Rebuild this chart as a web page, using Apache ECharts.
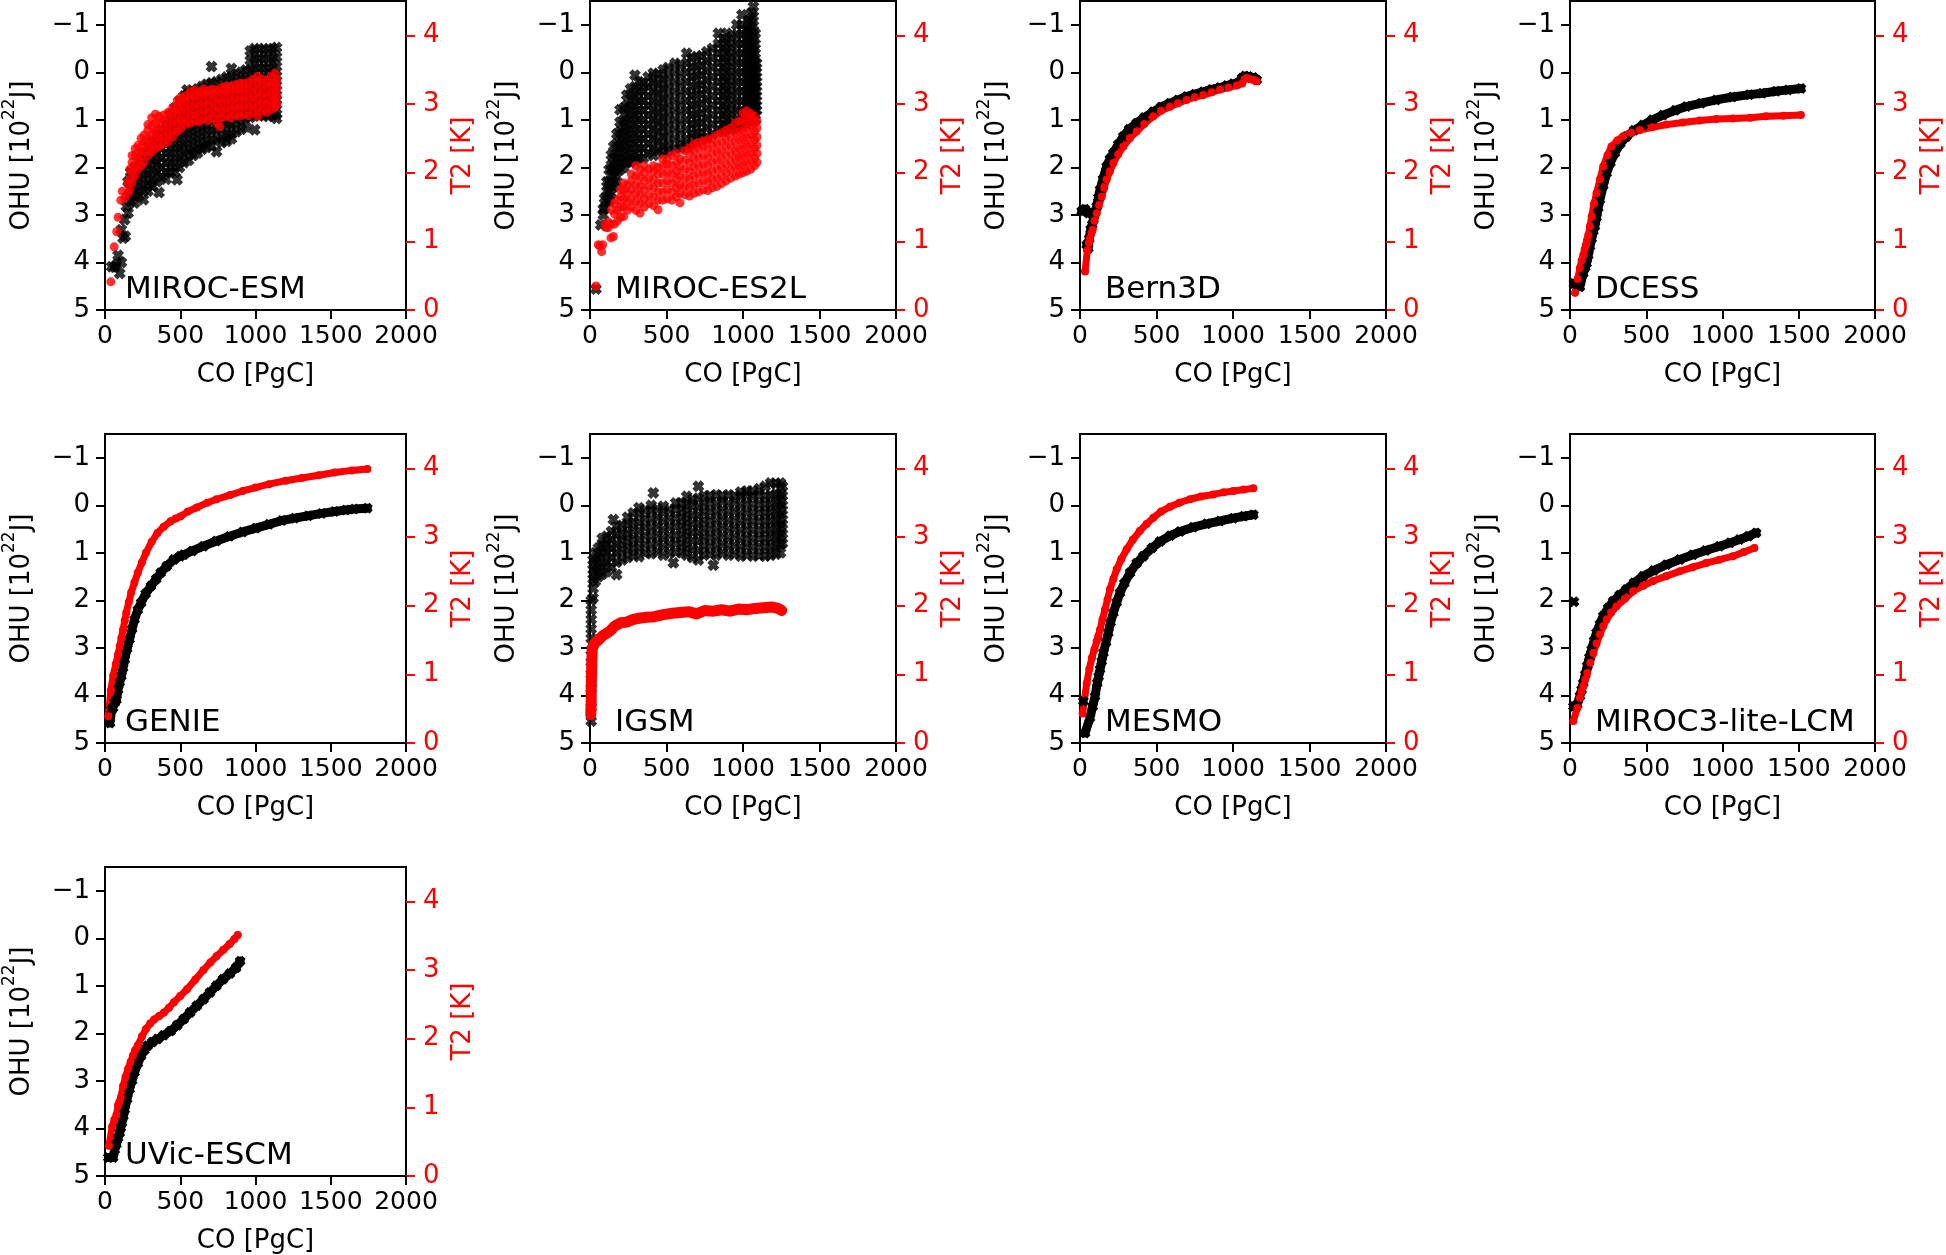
<!DOCTYPE html>
<html><head><meta charset="utf-8">
<script src="https://cdn.jsdelivr.net/npm/echarts@6/dist/echarts.min.js"></script>
<style>html,body{margin:0;padding:0;background:#fff}#c{width:1946px;height:1255px}</style>
</head><body><div id="c"></div>
<script>
// ---------- tick labels ----------
const xTicks = [0, 500, 1000, 1500, 2000];
const ohuTicks = [-1, 0, 1, 2, 3, 4, 5];
const t2Ticks = [0, 1, 2, 3, 4];
const models = ['MIROC-ESM', 'MIROC-ES2L', 'Bern3D', 'DCESS', 'GENIE', 'IGSM', 'MESMO', 'MIROC3-lite-LCM', 'UVic-ESCM'];

// ---------- scatter clouds: [CO, value, value, ...] columns ----------
const ohu_MIROC_ESM = [
 [44,4.09],[65,4.1],[76,4.05],[87,3.85],[98,4.23],[109,4.0,3.31],[120,3.49],[131,3.1],[135,3.45],[142,2.82],[153,2.96,2.6,2.3],
 [170,2.1,2.35,2.55,2.72],[196,2.0,2.2,2.4,2.6,2.75],[225,1.85,2.05,2.25,2.45,2.6],[255,1.7,1.9,2.1,2.3,2.5,2.68],
 [285,1.55,1.75,1.95,2.15,2.35,2.5],[315,1.45,1.65,1.85,2.05,2.25,2.4],[345,1.3,1.5,1.7,1.9,2.1,2.3],[359,2.53],
 [375,1.2,1.4,1.6,1.8,2.0,2.2],[405,1.1,1.3,1.5,1.7,1.9,2.1,2.25],[435,0.9,1.1,1.3,1.5,1.7,1.9,2.1],
 [465,0.75,0.95,1.15,1.35,1.55,1.75,1.95,2.1],[479,2.26],[495,0.6,0.8,1.0,1.2,1.4,1.6,1.8,2.0],
 [525,0.5,0.7,0.9,1.1,1.3,1.5,1.7,1.9],[545,0.37],[555,0.45,0.65,0.85,1.05,1.25,1.45,1.65,1.85],
 [585,0.4,0.6,0.8,1.0,1.2,1.4,1.6,1.75],[615,0.35,0.55,0.75,0.95,1.15,1.35,1.55,1.7],
 [645,0.3,0.5,0.7,0.9,1.1,1.3,1.5,1.62],[675,0.25,0.45,0.65,0.85,1.05,1.25,1.45,1.58],
 [708,-0.12,0.22,0.42,0.62,0.82,1.02,1.22,1.42,1.55],[741,0.2,0.4,0.6,0.8,1.0,1.2,1.4,1.67],
 [775,0.15,0.35,0.55,0.75,0.95,1.15,1.35,1.48],[808,0.1,0.3,0.5,0.7,0.9,1.1,1.3,1.45],
 [840,-0.08,0.1,0.3,0.5,0.7,0.9,1.1,1.3,1.4],[872,0.05,0.25,0.45,0.65,0.85,1.05,1.25],
 [905,0.0,0.2,0.4,0.6,0.8,1.0,1.2],[935,-0.05,0.15,0.35,0.55,0.75,0.95,1.15],
 [965,-0.45,-0.25,-0.05,0.15,0.35,0.55,0.75,0.95],[995,-0.5,-0.3,-0.1,0.1,0.3,0.5,0.7,0.9,1.21],
 [1025,-0.48,-0.28,-0.08,0.12,0.32,0.52,0.72,0.92],[1055,-0.5,-0.3,-0.1,0.1,0.3,0.5,0.7,0.9],
 [1085,-0.47,-0.27,-0.07,0.13,0.33,0.53,0.73,0.93],[1115,-0.5,-0.3,-0.1,0.1,0.3,0.5,0.7,0.9],
 [1140,-0.52,-0.32,-0.12,0.08,0.28,0.48,0.68,0.88,0.97]
];
const t2_MIROC_ESM = [
 [39,0.41],[61,0.92],[78,1.14],[87,1.35],[105,1.6],[115,1.73],[131,1.63],[150,1.7,1.85],[165,1.75,1.9,2.05],
 [180,1.85,2.0,2.15,2.25],[200,1.95,2.1,2.25,2.35],[220,2.05,2.18,2.3,2.4],[240,2.1,2.25,2.38,2.5],
 [260,2.15,2.3,2.45,2.55],[285,2.25,2.38,2.5,2.62,2.7],[310,2.3,2.42,2.55,2.68,2.8],[335,2.35,2.48,2.6,2.72,2.85],
 [360,2.38,2.5,2.62,2.74,2.82],[390,2.42,2.52,2.64,2.76,2.84],[420,2.45,2.56,2.68,2.8,2.88],
 [450,2.52,2.62,2.74,2.86,2.95],[480,2.6,2.72,2.84,2.96,3.05],[505,2.65,2.77,2.9,3.02,3.1],
 [535,2.7,2.8,2.92,3.04,3.12],[565,2.72,2.84,2.96,3.08,3.18],[595,2.75,2.86,2.98,3.1,3.2],
 [625,2.74,2.86,2.98,3.1,3.18],[655,2.78,2.9,3.02,3.14,3.22],[685,2.76,2.88,3.0,3.12,3.2],
 [715,2.8,2.92,3.04,3.16,3.22],[745,2.72,2.85,2.97,3.09,3.2],[763,2.67],[775,2.8,2.92,3.04,3.16,3.24],
 [805,2.82,2.94,3.06,3.18,3.26],[835,2.8,2.92,3.04,3.16,3.26],[865,2.84,2.96,3.08,3.2,3.28],
 [895,2.82,2.95,3.07,3.19,3.3],[925,2.85,2.97,3.09,3.21,3.3],[955,2.83,2.96,3.08,3.2,3.32],
 [985,2.88,3.0,3.12,3.24,3.36],[1015,2.82,2.95,3.07,3.19,3.31,3.4],[1045,2.9,3.02,3.14,3.26,3.36],
 [1075,2.88,3.0,3.12,3.24,3.35],[1105,2.92,3.04,3.16,3.28,3.4],[1130,2.95,3.07,3.19,3.31,3.45],[1142,3.0,3.12,3.24,3.36]
];
const ohu_MIROC_ES2L = [
 [39,4.56],[70,3.21],[87,3.0,2.88],[95,2.65,2.85],[110,2.3,2.5,2.7],[125,2.05,2.3,2.5,2.7],
 [140,1.74,1.95,2.15,2.35,2.55],[155,1.56,1.8,2.0,2.2,2.4],[175,1.3,1.5,1.7,1.9,2.1,2.3],
 [196,0.79,1.05,1.25,1.45,1.65,1.85,2.05],[220,0.75,1.0,1.2,1.4,1.6,1.8,2.0],
 [240,0.48,0.7,0.9,1.1,1.3,1.5,1.7,1.9],[265,0.35,0.55,0.75,0.95,1.15,1.35,1.55,1.75,1.9],
 [294,0.06,0.3,0.5,0.7,0.9,1.1,1.3,1.5,1.7,1.85],[320,0.2,0.4,0.6,0.8,1.0,1.2,1.4,1.6,1.8],
 [349,0.23,0.4,0.6,0.8,1.0,1.2,1.4,1.6,1.8],[380,0.1,0.3,0.5,0.7,0.9,1.1,1.3,1.5,1.7],
 [414,0.02,0.2,0.4,0.6,0.8,1.0,1.2,1.4,1.6,1.75],[445,0.05,0.25,0.45,0.65,0.85,1.05,1.25,1.45,1.65],
 [479,-0.05,0.15,0.35,0.55,0.75,0.95,1.15,1.35,1.55,1.7],[510,-0.1,0.1,0.3,0.5,0.7,0.9,1.1,1.3,1.5,1.65],
 [556,-0.19,0.0,0.2,0.4,0.6,0.8,1.0,1.2,1.4,1.6],[590,-0.15,0.05,0.25,0.45,0.65,0.85,1.05,1.25,1.45,1.6],
 [632,-0.4,-0.2,0.0,0.2,0.4,0.6,0.8,1.0,1.2,1.4,1.55],[665,-0.3,-0.1,0.1,0.3,0.5,0.7,0.9,1.1,1.3,1.5],
 [697,-0.33,-0.13,0.07,0.27,0.47,0.67,0.87,1.07,1.27,1.45],[730,-0.35,-0.15,0.05,0.25,0.45,0.65,0.85,1.05,1.25,1.42],
 [763,-0.43,-0.23,-0.03,0.17,0.37,0.57,0.77,0.97,1.17,1.37],[800,-0.5,-0.3,-0.1,0.1,0.3,0.5,0.7,0.9,1.1,1.3],
 [839,-0.82,-0.6,-0.4,-0.2,0.0,0.2,0.4,0.6,0.8,1.0,1.2],[870,-0.7,-0.5,-0.3,-0.1,0.1,0.3,0.5,0.7,0.9,1.1,1.25],
 [894,-0.82,-0.62,-0.42,-0.22,-0.02,0.18,0.38,0.58,0.78,0.98,1.15],[925,-0.75,-0.55,-0.35,-0.15,0.05,0.25,0.45,0.65,0.85,1.05,1.2],
 [959,-1.0,-0.8,-0.6,-0.4,-0.2,0.0,0.2,0.4,0.6,0.8,1.0,1.15],[993,-1.21,-1.0,-0.8,-0.6,-0.4,-0.2,0.0,0.2,0.4,0.6,0.8,1.0,1.1],
 [1020,-0.9,-0.7,-0.5,-0.3,-0.1,0.1,0.3,0.5,0.7,0.9,1.05],[1037,-1.1,-0.9,-0.7,-0.5,-0.3,-0.1,0.1,0.3,0.5,0.7,0.9],
 [1055,-1.25,-1.05,-0.85,-0.65,-0.45,-0.25,-0.05,0.15,0.35,0.55,0.75,0.95],
 [1068,-1.38,-1.18,-0.98,-0.78,-0.58,-0.38,-0.18,0.02,0.22,0.42,0.62,0.82,1.0],
 [1080,-0.82,-0.6,-0.4,-0.2,0.0,0.2,0.4,0.6,0.8,1.0],[1089,-0.19,0.0,0.2,0.4,0.6,0.8]
];
const t2_MIROC_ES2L = [
 [39,0.35],[54,0.95],[65,0.93],[76,0.85],[83,0.95],[100,1.25],[105,1.2],[120,1.2,1.28],[137,1.25,1.05],[153,1.07],[142,1.46],
 [160,1.25,1.4,1.55],[180,1.3,1.45,1.6],[200,1.35,1.5,1.65,1.75],[220,1.36,1.5,1.62,1.75,1.85],[245,1.45,1.57,1.7,1.82],
 [270,1.5,1.62,1.75,1.88,1.98],[300,1.45,1.58,1.7,1.82,1.95,2.1],[327,1.41,1.55,1.68,1.8,1.93,2.05],
 [355,1.5,1.62,1.75,1.88,2.0,2.1],[385,1.55,1.67,1.8,1.92,2.05],[415,1.52,1.65,1.78,1.9,2.02,2.1],
 [445,1.46,1.6,1.72,1.85,1.98,2.08],[475,1.6,1.72,1.85,1.98,2.1,2.2],[505,1.62,1.75,1.88,2.0,2.12,2.2],
 [535,1.6,1.72,1.85,1.98,2.1,2.25],[565,1.65,1.78,1.9,2.02,2.15,2.28],[588,1.56,1.7,1.82,1.95,2.08,2.2],
 [620,1.68,1.8,1.92,2.05,2.18,2.32],[650,1.66,1.78,1.9,2.02,2.15,2.28,2.36],[680,1.7,1.82,1.95,2.08,2.2,2.32,2.42],
 [710,1.72,1.85,1.98,2.1,2.22,2.35,2.44],[740,1.75,1.88,2.0,2.12,2.25,2.38,2.46],[770,1.74,1.86,1.98,2.1,2.22,2.35,2.48],
 [800,1.78,1.9,2.02,2.15,2.28,2.4,2.5],[830,1.8,1.92,2.05,2.18,2.3,2.42,2.55],[860,1.84,1.96,2.08,2.2,2.32,2.45,2.58],
 [890,1.88,2.0,2.12,2.25,2.38,2.5,2.62],[920,1.92,2.04,2.16,2.28,2.4,2.52,2.65],[950,1.95,2.08,2.2,2.32,2.45,2.58,2.72],
 [975,1.98,2.1,2.22,2.35,2.48,2.6,2.75],[1000,2.0,2.12,2.25,2.38,2.5,2.62,2.75,2.87],
 [1024,2.02,2.15,2.28,2.4,2.52,2.65,2.78,2.9],[1050,2.05,2.18,2.3,2.42,2.55,2.68,2.8,2.86],
 [1075,2.1,2.22,2.35,2.48,2.6,2.72,2.82],[1092,2.15,2.28,2.4,2.52,2.65,2.75]
];
const ohu_IGSM = [
 [8,4.54,4.25,3.85,3.55,3.3,3.05,2.8,2.6,2.4,2.2,2.0],[20,1.95,1.75,1.55,1.35,1.15],[35,1.6,1.4,1.2,1.0],
 [55,1.5,1.3,1.1,0.9],[80,1.45,1.25,1.05,0.85,0.7],[109,1.4,1.2,1.0,0.82,0.65],[140,1.3,1.1,0.9,0.72,0.55],[153,0.3],
 [174,1.46,1.2,1.0,0.82,0.62,0.45],[210,1.15,0.95,0.77,0.6,0.42],[245,1.1,0.92,0.75,0.58,0.4,0.25],
 [283,1.05,0.88,0.7,0.52,0.35,0.16],[320,1.08,0.9,0.72,0.54,0.36,0.18,0.05],[360,1.0,0.82,0.64,0.46,0.28,0.1],
 [400,1.02,0.84,0.66,0.48,0.3,0.12,0.0],[414,-0.26],[440,0.98,0.8,0.62,0.44,0.26,0.08],
 [479,1.05,0.87,0.69,0.51,0.33,0.15,0.02],[520,1.0,0.82,0.64,0.46,0.28,0.1],[545,1.21],
 [560,0.98,0.8,0.62,0.44,0.26,0.08,-0.05],[600,1.0,0.82,0.64,0.46,0.28,0.1,-0.05],
 [632,1.05,0.87,0.69,0.51,0.33,0.15,-0.03,-0.19],[670,1.1,0.92,0.74,0.56,0.38,0.2,0.02,-0.12],
 [708,1.15,0.95,0.75,0.57,0.39,0.21,0.03,-0.15,-0.4],[745,1.05,0.87,0.69,0.51,0.33,0.15,-0.03,-0.2],
 [785,1.02,0.84,0.66,0.48,0.3,0.12,-0.06,-0.2],[806,1.26],[825,1.05,0.87,0.69,0.51,0.33,0.15,-0.03,-0.22],
 [865,1.0,0.82,0.64,0.46,0.28,0.1,-0.08,-0.2],[905,1.05,0.87,0.69,0.51,0.33,0.15,-0.03,-0.22],
 [945,1.02,0.84,0.66,0.48,0.3,0.12,-0.06,-0.2],[985,1.07,0.89,0.71,0.53,0.35,0.17,-0.01,-0.19,-0.28],
 [1024,1.04,0.86,0.68,0.5,0.32,0.14,-0.04,-0.22,-0.3],[1065,1.07,0.89,0.71,0.53,0.35,0.17,-0.01,-0.19,-0.3],
 [1105,1.05,0.87,0.69,0.51,0.33,0.15,-0.03,-0.21,-0.35],[1145,1.07,0.89,0.71,0.53,0.35,0.17,-0.01,-0.19,-0.4],
 [1180,1.05,0.87,0.69,0.51,0.33,0.15,-0.03,-0.21,-0.47],[1215,1.03,0.85,0.67,0.49,0.31,0.13,-0.05,-0.23,-0.45],
 [1245,1.0,0.82,0.64,0.46,0.28,0.1,-0.08,-0.26,-0.47],[1258,0.8,0.6,0.4,0.2,0.0,-0.2,-0.4]
];

// ---------- smooth curves: [CO, value] points (null = gap) ----------
const t2_IGSM = [[5,0.41],[8,0.6],[8,0.8],[10,1.0],[12,1.2],[15,1.38],[30,1.45],[55,1.5],[87,1.57],[110,1.6],[131,1.63],[160,1.7],[200,1.75],[240,1.76],[283,1.8],[330,1.82],[370,1.83],[420,1.84],[479,1.87],[540,1.89],[588,1.9],[650,1.91],[697,1.88],[750,1.93],[806,1.92],[860,1.94],[915,1.92],[970,1.95],[1024,1.94],[1080,1.96],[1133,1.97],[1190,1.98],[1230,1.96],[1253,1.93]];
const ohu_Bern3D = [[11,2.92],[33,2.88],[55,2.96],null,[44,3.63],[54,3.7],[60,3.5],[70,3.3],[80,3.2],[87,3.1],[98,2.95],[109,2.82],[120,2.64],[131,2.47],[150,2.25],[174,1.98],[196,1.82],[218,1.7],[250,1.52],[283,1.35],[320,1.2],[370,1.07],[420,0.95],[479,0.83],[530,0.73],[588,0.65],[640,0.58],[697,0.51],[750,0.46],[806,0.41],[860,0.36],[915,0.32],[960,0.28],[1002,0.24],[1046,0.2],[1060,0.12],[1078,0.08],[1100,0.09],[1133,0.11],[1155,0.16]];
const t2_Bern3D = [[33,0.56],[48,0.87],[58,0.98],[65,1.04],[75,1.12],[83,1.17],[95,1.3],[109,1.41],[125,1.53],[142,1.65],[158,1.78],[174,1.9],[196,2.02],[218,2.14],[250,2.27],[283,2.38],[325,2.5],[370,2.6],[420,2.71],[479,2.82],[530,2.9],[588,2.96],[640,3.01],[697,3.06],[750,3.1],[806,3.13],[860,3.17],[915,3.21],[970,3.24],[1024,3.27],[1060,3.3],[1075,3.36],[1090,3.38],[1111,3.36],[1135,3.35],[1155,3.33]];
const ohu_DCESS = [[26,4.44],[48,4.47],[65,4.51],[87,4.23],[100,4.1],[109,4.02],[120,3.85],[131,3.66],[142,3.5],[153,3.34],[163,3.24],[174,3.05],[185,2.85],[196,2.68],[218,2.38],[240,2.12],[265,1.9],[294,1.7],[330,1.5],[370,1.35],[420,1.22],[479,1.11],[540,1.0],[610,0.9],[690,0.8],[763,0.72],[860,0.65],[959,0.58],[1065,0.52],[1176,0.47],[1260,0.44],[1351,0.4],[1430,0.37],[1514,0.34]];
const t2_DCESS = [[33,0.25],[50,0.45],[65,0.61],[76,0.72],[87,0.8],[96,0.88],[105,0.95],[112,1.02],[120,1.09],[131,1.22],[142,1.36],[158,1.55],[174,1.7],[196,1.9],[218,2.09],[245,2.25],[272,2.38],[310,2.47],[349,2.53],[400,2.58],[458,2.62],[540,2.66],[632,2.7],[740,2.73],[850,2.76],[960,2.78],[1068,2.79],[1180,2.8],[1285,2.82],[1400,2.83],[1514,2.84]];
const ohu_GENIE = [[33,4.58],[44,4.3],[54,4.26],[65,4.15],[76,4.09],[87,3.88],[98,3.72],[109,3.59],[120,3.42],[131,3.24],[147,3.02],[163,2.82],[180,2.6],[196,2.4],[218,2.2],[240,2.05],[270,1.86],[305,1.7],[340,1.55],[370,1.42],[410,1.28],[458,1.14],[500,1.07],[523,1.04],[580,0.96],[654,0.86],[740,0.75],[828,0.65],[915,0.56],[1002,0.48],[1090,0.4],[1176,0.32],[1260,0.27],[1351,0.22],[1440,0.17],[1525,0.13],[1600,0.1],[1656,0.08],[1743,0.06]];
const t2_GENIE = [[22,0.39],[39,0.77],[54,0.98],[72,1.15],[87,1.29],[98,1.41],[109,1.53],[120,1.65],[131,1.78],[142,1.9],[158,2.05],[174,2.19],[196,2.34],[218,2.48],[245,2.63],[272,2.77],[310,2.93],[349,3.06],[390,3.15],[436,3.23],[470,3.27],[501,3.3],[550,3.37],[610,3.43],[680,3.5],[741,3.55],[830,3.61],[915,3.67],[1000,3.72],[1089,3.77],[1200,3.82],[1307,3.86],[1420,3.9],[1525,3.94],[1640,3.97],[1743,3.99]];
const ohu_MESMO = [[22,4.12],null,[33,4.79],[65,4.47],[83,4.23],[98,4.02],[113,3.74],[122,3.6],[131,3.45],[142,3.28],[153,3.1],[170,2.88],[185,2.68],[200,2.46],[218,2.26],[240,2.04],[261,1.84],[290,1.64],[327,1.42],[370,1.22],[414,1.07],[470,0.9],[523,0.76],[590,0.64],[654,0.55],[740,0.46],[828,0.39],[915,0.33],[1002,0.27],[1070,0.23],[1133,0.2]];
const t2_MESMO = [[17,0.43],[44,0.87],[61,1.08],[78,1.24],[94,1.36],[109,1.48],[120,1.56],[131,1.65],[147,1.8],[163,1.94],[180,2.09],[196,2.24],[218,2.39],[240,2.53],[270,2.68],[305,2.82],[345,2.96],[392,3.09],[435,3.19],[479,3.28],[530,3.37],[588,3.44],[650,3.5],[719,3.55],[790,3.59],[871,3.62],[940,3.65],[1002,3.67],[1070,3.69],[1133,3.71]];
const ohu_MIROC3 = [[26,2.03],null,[22,4.23],[48,4.19],[65,4.01],[76,3.88],[87,3.74],[100,3.56],[113,3.38],[127,3.2],[142,3.03],[158,2.85],[174,2.68],[196,2.5],[218,2.33],[250,2.16],[283,2.02],[325,1.89],[370,1.77],[420,1.63],[479,1.49],[550,1.37],[632,1.25],[720,1.14],[806,1.04],[890,0.95],[980,0.86],[1050,0.79],[1111,0.72],[1170,0.65],[1220,0.58]];
const t2_MIROC3 = [[22,0.32],[48,0.51],[65,0.66],[76,0.75],[87,0.83],[100,0.93],[113,1.02],[133,1.17],[153,1.31],[174,1.45],[196,1.58],[218,1.7],[240,1.8],[270,1.9],[305,1.99],[360,2.1],[414,2.21],[480,2.29],[545,2.36],[630,2.43],[719,2.5],[805,2.56],[893,2.62],[980,2.67],[1068,2.72],[1140,2.78],[1209,2.84]];
const ohu_UVic = [[22,4.61],[54,4.61],[65,4.45],[76,4.33],[87,4.2],[98,4.09],[105,3.98],[113,3.88],[122,3.74],[131,3.6],[147,3.38],[163,3.17],[180,2.99],[196,2.82],[218,2.63],[240,2.47],[262,2.35],[283,2.26],[315,2.18],[349,2.12],[390,2.04],[436,1.95],[480,1.83],[523,1.7],[565,1.56],[610,1.42],[655,1.28],[697,1.14],[740,1.0],[784,0.86],[830,0.74],[871,0.62],[898,0.48]];
const t2_UVic = [[26,0.44],[48,0.72],[62,0.82],[76,0.89],[87,1.03],[96,1.08],[105,1.14],[120,1.31],[136,1.44],[153,1.56],[170,1.66],[185,1.75],[200,1.83],[218,1.9],[245,2.03],[272,2.14],[300,2.22],[327,2.28],[360,2.33],[392,2.38],[425,2.45],[458,2.53],[500,2.62],[545,2.72],[600,2.86],[654,3.0],[700,3.11],[741,3.2],[785,3.29],[828,3.38],[860,3.45],[882,3.51]];

// ---------- build ----------
const flat = cols => cols.flatMap(c => c.slice(1).map(v => [c[0], v]));
const FONT = 'DejaVu Sans';
const XPATH = 'path://M0,3 L3,0 L5,2 L7,0 L10,3 L8,5 L10,7 L7,10 L5,8 L3,10 L0,7 L2,5 Z';
const BLACK = '#000000', RED = '#ff0000';

const panels = [
  {ohu: {cloud: flat(ohu_MIROC_ESM)}, t2: {cloud: flat(t2_MIROC_ESM)}},
  {ohu: {cloud: flat(ohu_MIROC_ES2L)}, t2: {cloud: flat(t2_MIROC_ES2L)}},
  {ohu: {line: ohu_Bern3D}, t2: {line: t2_Bern3D}},
  {ohu: {line: ohu_DCESS}, t2: {line: t2_DCESS}},
  {ohu: {line: ohu_GENIE}, t2: {line: t2_GENIE}},
  {ohu: {cloud: flat(ohu_IGSM)}, t2: {line: t2_IGSM, width: 11}},
  {ohu: {line: ohu_MESMO}, t2: {line: t2_MESMO}},
  {ohu: {line: ohu_MIROC3}, t2: {line: t2_MIROC3}},
  {ohu: {line: ohu_UVic}, t2: {line: t2_UVic}}
];

const colLeft = [100, 590, 1080, 1570], rowTop = [1, 434, 867], W = 306, H = 309;
const grid = [], xAxis = [], yAxis = [], series = [], title = [];
const tickFont = {fontFamily: FONT, fontSize: 25};
const yTickFont = {fontFamily: FONT, fontSize: 26};
const minus = v => (v < 0 ? '\u2212' + (-v) : String(v));

panels.forEach((p, i) => {
  const r = Math.floor(i / 4), c = i % 4;
  const L = colLeft[c], T = rowTop[r];
  grid.push({left: L, top: T, width: W, height: H, show: true, borderColor: BLACK, borderWidth: 2, backgroundColor: 'transparent'});
  xAxis.push({
    gridIndex: i, type: 'value', min: xTicks[0], max: xTicks[xTicks.length - 1], interval: 500,
    name: 'CO [PgC]', nameLocation: 'middle', nameGap: 52,
    nameTextStyle: {fontFamily: FONT, fontSize: 26, color: BLACK},
    axisLine: {show: true, onZero: false, lineStyle: {color: BLACK, width: 2}},
    axisTick: {show: true, length: 9, lineStyle: {color: BLACK, width: 2}},
    axisLabel: Object.assign({color: BLACK, margin: 14, showMinLabel: true, showMaxLabel: true, formatter: v => String(v)}, tickFont),
    splitLine: {show: false}
  });
  yAxis.push({
    gridIndex: i, type: 'value', position: 'left', inverse: true, min: -1.5, max: 5,
    name: '{a|OHU [10}{s|22}{a|J]}', nameLocation: 'middle', nameGap: 70, nameRotate: 90,
    nameTextStyle: {fontFamily: FONT, fontSize: 26, color: BLACK,
      rich: {a: {fontFamily: FONT, fontSize: 26, color: BLACK, verticalAlign: 'bottom', lineHeight: 34},
             s: {fontFamily: FONT, fontSize: 17, color: BLACK, verticalAlign: 'top', lineHeight: 34}}},
    axisLine: {show: true, onZero: false, lineStyle: {color: BLACK, width: 2}},
    axisTick: {show: true, length: 9, customValues: ohuTicks, lineStyle: {color: BLACK, width: 2}},
    axisLabel: Object.assign({color: BLACK, margin: 15, customValues: ohuTicks, formatter: minus}, yTickFont),
    splitLine: {show: false}
  });
  yAxis.push({
    gridIndex: i, type: 'value', position: 'right', min: 0, max: 4.5,
    name: 'T2 [K]', nameLocation: 'middle', nameGap: 44, nameRotate: 90,
    nameTextStyle: {fontFamily: FONT, fontSize: 26, color: RED},
    axisLine: {show: true, onZero: false, lineStyle: {color: BLACK, width: 2}},
    axisTick: {show: true, length: 9, customValues: t2Ticks, lineStyle: {color: RED, width: 2}},
    axisLabel: Object.assign({color: RED, margin: 17, customValues: t2Ticks}, yTickFont),
    splitLine: {show: false}
  });
  const add = (spec, yIdx, color, isBlack) => {
    if (spec.cloud) {
      series.push({type: 'scatter', xAxisIndex: i, yAxisIndex: yIdx, data: spec.cloud,
        symbol: isBlack ? XPATH : 'circle', symbolSize: isBlack ? 12 : 9,
        itemStyle: {color: color}, silent: true, large: false});
    } else {
      series.push({type: 'line', xAxisIndex: i, yAxisIndex: yIdx, data: spec.line,
        symbol: isBlack ? XPATH : 'circle', symbolSize: isBlack ? 11 : 8, showSymbol: true, showAllSymbol: true,
        connectNulls: false, smooth: false,
        lineStyle: {color: color, width: spec.width || (isBlack ? 9 : 7), cap: 'round', join: 'round'},
        itemStyle: {color: color}, silent: true});
    }
  };
  add(p.ohu, 2 * i, BLACK, true);
  add(p.t2, 2 * i + 1, RED, false);
  title.push({text: models[i], left: L + 25, top: T + H - 36, padding: 0,
    textStyle: {fontFamily: FONT, fontSize: 31, fontWeight: 'normal', color: BLACK}});
});

const chart = echarts.init(document.getElementById('c'), null, {renderer: 'canvas'});
chart.setOption({animation: false, backgroundColor: '#ffffff', title, grid, xAxis, yAxis, series});
</script>
</body></html>
